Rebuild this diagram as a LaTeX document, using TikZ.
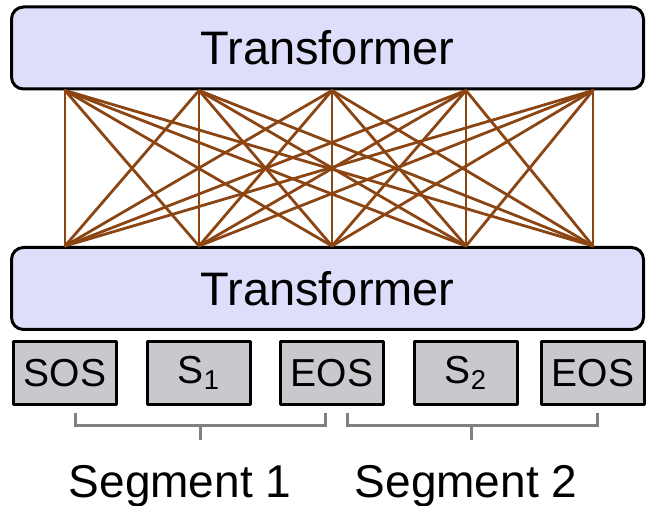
\documentclass[tikz,border=0pt]{standalone}
\usepackage{fontspec}
\setmainfont{Liberation Sans}
\definecolor{tfblue}{HTML}{DEDEFA}
\definecolor{tokgray}{HTML}{C7C9CC}
\definecolor{attbrown}{HTML}{8B4513}
\begin{document}
\begin{tikzpicture}[line join=round,line cap=round,x=0.5pt,y=-0.5pt,
		tfbox/.style={draw,line width=1.5pt,rounded corners=6pt,fill=tfblue,minimum width=316pt,minimum height=41pt,inner sep=0pt,font=\fontsize{23.5}{26}\selectfont},
		tokbox/.style={draw,line width=1.5pt,fill=tokgray,minimum width=51.5pt,minimum height=31.5pt,inner sep=0pt,font=\fontsize{19.5}{22}\selectfont},
		brace/.style={gray,line width=1.5pt,line cap=butt,line join=miter},
		seg/.style={font=\fontsize{23}{26}\selectfont,anchor=base}]
	\useasboundingbox (0,0) rectangle (646,506);
	\node[tfbox] (top) at (327.5,48) {Transformer};
	\node[tfbox] (bot) at (327.5,288.5) {Transformer};
	\foreach \x/\n/\t in {65/1/SOS,199/2/S\textsubscript{1},332/3/EOS,466/4/S\textsubscript{2},593/5/EOS}{
		\node[tokbox] (tok\n) at (\x,373) {\t};
		\coordinate (up\n) at (top.south -| tok\n);
		\coordinate (dn\n) at (bot.north -| tok\n);
	}
	% fully connected attention lines
	\foreach \i in {1,...,5}
		\foreach \j in {1,...,5}
			\draw[attbrown,line width=1.4pt] (up\i)--(dn\j);
	% segment brackets
	\draw[brace](75,413)|-(325,426)--(325,413);
	\draw[brace](200,426)--(200,440);
	\draw[brace](347,413)|-(597,426)--(597,413);
	\draw[brace](471,426)--(471,440);
	\node[seg] (seg1) at (180,497) {Segment 1};
	\node[seg] (seg2) at (466,497) {Segment 2};
\end{tikzpicture}
\end{document}
